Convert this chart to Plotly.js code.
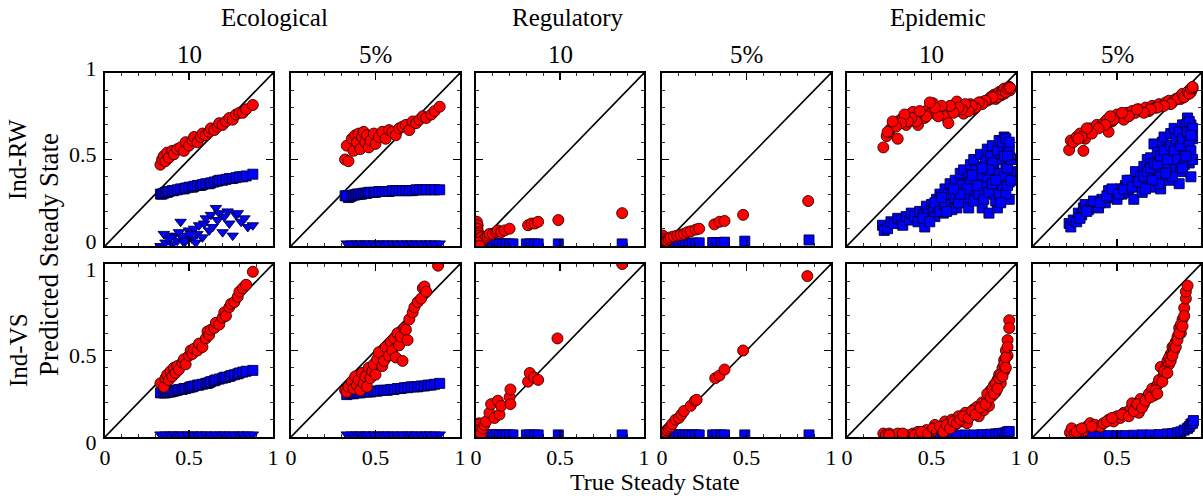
<!DOCTYPE html>
<html>
<head>
<meta charset="utf-8">
<script src="https://cdn.plot.ly/plotly-3.0.1.min.js"></script>
<style>html,body{margin:0;padding:0;background:#fff;}#chart{width:1203px;height:496px;}</style>
</head>
<body>
<div id="chart"></div>
<script>
// ---------- Labels ----------
const groupLabels = ['Ecological', 'Regulatory', 'Epidemic'];
const subLabels = ['10', '5%', '10', '5%', '10', '5%'];
const rowLabels = ['Ind-RW', 'Ind-VS'];
const tickVals = [0, 0.5, 1];
const tickText = ['0', '0.5', '1'];
const identity = [0, 1];

// ---------- Ecological, 10, Ind-RW ----------
const ecoRW10RedX = [0.33,0.34,0.35,0.36,0.37,0.38,0.40,0.41,0.43,0.45,0.47,0.48,0.50,0.52,0.53,0.55,0.57,0.58,0.60,0.62,0.63,0.65,0.67,0.68,0.70,0.72,0.74,0.76,0.78,0.80,0.82,0.84,0.88];
const ecoRW10RedY = [0.47,0.50,0.52,0.49,0.54,0.51,0.55,0.53,0.56,0.57,0.55,0.60,0.58,0.61,0.63,0.60,0.63,0.65,0.64,0.66,0.68,0.67,0.69,0.71,0.70,0.72,0.74,0.73,0.76,0.77,0.77,0.79,0.815];
const ecoRW10BlueX = ecoRW10RedX;
const ecoRW10BlueY = [0.30,0.30,0.305,0.31,0.31,0.315,0.32,0.32,0.325,0.33,0.33,0.335,0.34,0.34,0.345,0.35,0.35,0.355,0.36,0.36,0.365,0.37,0.375,0.38,0.38,0.385,0.39,0.39,0.395,0.40,0.40,0.405,0.415];
const ecoRW10TriX = [0.33,0.35,0.36,0.38,0.40,0.41,0.43,0.44,0.45,0.46,0.47,0.49,0.50,0.52,0.53,0.55,0.56,0.58,0.59,0.60,0.62,0.63,0.64,0.66,0.67,0.68,0.70,0.71,0.73,0.74,0.76,0.78,0.79,0.81,0.83,0.85,0.88,0.39,0.48,0.51,0.54];
const ecoRW10TriY = [0.00,0.07,0.02,0.04,0.01,0.06,0.03,0.08,0.14,0.05,0.02,0.06,0.09,0.04,0.10,0.07,0.12,0.05,0.13,0.16,0.09,0.18,0.11,0.22,0.15,0.19,0.08,0.17,0.20,0.13,0.06,0.18,0.19,0.14,0.16,0.11,0.12,0.05,0.03,0.07,0.02];

// ---------- Ecological, 5%, Ind-RW ----------
const ecoRW5RedX = [0.32,0.34,0.35,0.33,0.36,0.37,0.38,0.39,0.40,0.41,0.42,0.43,0.44,0.45,0.46,0.47,0.49,0.50,0.52,0.54,0.56,0.58,0.60,0.62,0.64,0.66,0.68,0.70,0.72,0.74,0.76,0.78,0.80,0.83,0.85,0.88];
const ecoRW5RedY = [0.50,0.49,0.59,0.58,0.62,0.55,0.64,0.60,0.65,0.56,0.63,0.66,0.60,0.64,0.57,0.61,0.65,0.59,0.63,0.66,0.62,0.67,0.66,0.64,0.68,0.69,0.70,0.67,0.72,0.71,0.73,0.75,0.74,0.76,0.78,0.805];
const ecoRW5BlueX = ecoRW5RedX;
const ecoRW5BlueY = [0.29,0.28,0.285,0.29,0.29,0.295,0.295,0.30,0.30,0.30,0.30,0.305,0.305,0.305,0.31,0.31,0.31,0.31,0.315,0.315,0.315,0.315,0.32,0.32,0.32,0.32,0.32,0.32,0.32,0.325,0.325,0.325,0.325,0.325,0.325,0.325];
const ecoFlatTriX = [0.33,0.36,0.39,0.41,0.44,0.46,0.49,0.52,0.55,0.57,0.60,0.63,0.66,0.69,0.71,0.74,0.77,0.80,0.82,0.85,0.88];
const ecoFlatTriY = [0.015,0.015,0.015,0.015,0.015,0.015,0.015,0.015,0.015,0.015,0.015,0.015,0.015,0.015,0.015,0.015,0.015,0.015,0.015,0.015,0.015];

// ---------- Regulatory, 10, Ind-RW ----------
const regRW10RedX = [0.005,0.01,0.008,0.012,0.02,0.015,0.03,0.04,0.05,0.06,0.07,0.08,0.10,0.12,0.13,0.15,0.17,0.20,0.31,0.33,0.35,0.37,0.49,0.87,0.01,0.02];
const regRW10RedY = [0.14,0.12,0.10,0.08,0.06,0.04,0.05,0.03,0.04,0.05,0.06,0.07,0.07,0.08,0.09,0.08,0.09,0.10,0.12,0.13,0.13,0.14,0.15,0.19,0.02,0.00];
const regBlueX = [0.02,0.04,0.06,0.08,0.10,0.12,0.14,0.16,0.18,0.20,0.22,0.30,0.32,0.35,0.37,0.49,0.87];
const regRW10BlueY = [0.012,0.012,0.012,0.012,0.012,0.012,0.012,0.012,0.012,0.012,0.012,0.012,0.012,0.012,0.012,0.012,0.012];

// ---------- Regulatory, 5%, Ind-RW ----------
const regRW5RedX = [0.005,0.01,0.015,0.02,0.03,0.04,0.05,0.07,0.09,0.11,0.13,0.15,0.17,0.20,0.22,0.31,0.34,0.37,0.48,0.865];
const regRW5RedY = [0.06,0.04,0.02,0.03,0.03,0.04,0.05,0.055,0.06,0.065,0.07,0.08,0.085,0.095,0.10,0.125,0.14,0.145,0.18,0.26];
const regRW5BlueY = [0.01,0.01,0.012,0.012,0.012,0.014,0.014,0.016,0.016,0.016,0.018,0.02,0.02,0.02,0.022,0.028,0.035];

// ---------- Epidemic, 10, Ind-RW ----------
const epiRW10RedX = [0.215,0.235,0.25,0.26,0.28,0.30,0.31,0.33,0.35,0.37,0.39,0.40,0.42,0.44,0.46,0.48,0.50,0.51,0.53,0.55,0.57,0.58,0.60,0.62,0.64,0.65,0.67,0.69,0.71,0.73,0.75,0.77,0.79,0.81,0.83,0.85,0.87,0.88,0.90,0.91,0.92,0.93,0.94,0.95,0.96,0.965,
  0.88,0.89,0.90,0.91,0.92,0.93,0.94,0.95,0.96,0.965,0.85,0.86,0.82,0.80,0.78,0.76,0.74,0.72,0.70,0.68,0.66,0.63,0.61,0.56,0.54,0.52,0.49,0.47,0.43,0.41,0.38,0.36,0.34,0.32,0.29,0.27,0.24];
const epiRW10RedY = [0.57,0.635,0.66,0.68,0.70,0.62,0.725,0.74,0.70,0.76,0.775,0.73,0.70,0.76,0.74,0.79,0.77,0.825,0.76,0.785,0.80,0.75,0.71,0.79,0.81,0.835,0.78,0.765,0.80,0.82,0.79,0.81,0.83,0.835,0.84,0.86,0.875,0.85,0.88,0.87,0.89,0.88,0.90,0.895,0.91,0.90,
  0.87,0.86,0.89,0.88,0.90,0.91,0.89,0.91,0.92,0.915,0.85,0.86,0.84,0.82,0.83,0.80,0.81,0.78,0.82,0.79,0.80,0.77,0.81,0.81,0.75,0.80,0.83,0.75,0.78,0.72,0.74,0.72,0.76,0.71,0.69,0.72,0.66];
const epiRW10BlueX = [0.21,0.22,0.24,0.26,0.28,0.30,0.32,0.33,0.35,0.37,0.38,0.40,0.42,0.43,0.45,0.46,0.47,0.48,0.50,0.51,0.52,0.53,0.54,0.55,0.56,0.57,0.58,0.59,0.60,0.61,0.62,0.63,0.64,0.65,0.66,0.67,0.68,0.69,0.70,0.71,0.72,0.73,0.74,0.75,0.76,0.77,0.78,0.79,0.80,0.81,0.82,0.83,0.84,0.85,0.86,0.87,0.88,0.89,0.90,0.91,0.92,0.93,0.93,0.94,0.95,0.96,0.965,0.97,0.96,
  0.45,0.49,0.52,0.55,0.58,0.60,0.62,0.64,0.66,0.68,0.70,0.72,0.73,0.75,0.76,0.78,0.79,0.80,0.81,0.82,0.83,0.84,0.85,0.86,0.87,0.88,0.89,0.90,0.90,0.91,0.92,0.92,0.93,0.93,0.94,0.94,0.95,0.95,0.96,0.96,0.97,0.97,0.95,0.91,0.88,0.86,0.84,0.80,0.77,0.74,0.71,0.67,0.63,0.59,0.56];
const epiRW10BlueY = [0.12,0.09,0.10,0.14,0.13,0.16,0.15,0.12,0.17,0.15,0.19,0.17,0.14,0.20,0.18,0.11,0.23,0.19,0.24,0.21,0.17,0.27,0.22,0.30,0.25,0.19,0.33,0.28,0.23,0.36,0.30,0.26,0.38,0.22,0.33,0.42,0.29,0.44,0.36,0.25,0.40,0.47,0.32,0.50,0.28,0.43,0.37,0.53,0.22,0.46,0.34,0.56,0.19,0.41,0.58,0.30,0.50,0.22,0.61,0.38,0.55,0.63,0.32,0.46,0.58,0.37,0.51,0.43,0.27,
  0.16,0.14,0.25,0.20,0.24,0.30,0.21,0.28,0.25,0.35,0.30,0.22,0.37,0.26,0.44,0.30,0.41,0.35,0.27,0.49,0.40,0.31,0.52,0.36,0.45,0.26,0.55,0.42,0.30,0.50,0.35,0.60,0.40,0.52,0.30,0.62,0.45,0.35,0.55,0.60,0.50,0.38,0.52,0.25,0.38,0.48,0.44,0.45,0.35,0.41,0.33,0.30,0.33,0.20,0.28];

// ---------- Epidemic, 5%, Ind-RW ----------
const epiRW5RedX = [0.215,0.225,0.24,0.26,0.28,0.30,0.31,0.33,0.34,0.36,0.38,0.40,0.42,0.44,0.45,0.47,0.49,0.50,0.52,0.54,0.56,0.58,0.59,0.61,0.63,0.65,0.67,0.69,0.71,0.73,0.75,0.77,0.79,0.81,0.83,0.85,0.87,0.88,0.90,0.91,0.92,0.93,0.94,0.95,
  0.86,0.89,0.90,0.92,0.93,0.94,0.95,0.82,0.78,0.74,0.70,0.66,0.62,0.57,0.53,0.48,0.46,0.43,0.39,0.35,0.32,0.29,0.27];
const epiRW5RedY = [0.555,0.61,0.60,0.63,0.65,0.55,0.62,0.66,0.68,0.67,0.70,0.69,0.71,0.73,0.66,0.72,0.74,0.76,0.75,0.73,0.77,0.76,0.78,0.77,0.79,0.78,0.80,0.78,0.81,0.80,0.82,0.81,0.83,0.84,0.83,0.85,0.86,0.85,0.87,0.88,0.88,0.90,0.89,0.91,
  0.85,0.88,0.86,0.89,0.88,0.91,0.92,0.82,0.81,0.80,0.79,0.77,0.79,0.75,0.77,0.73,0.75,0.70,0.68,0.65,0.68,0.63,0.62];
const epiRW5BlueX = [0.215,0.225,0.24,0.26,0.27,0.29,0.30,0.31,0.33,0.35,0.37,0.39,0.41,0.43,0.45,0.46,0.48,0.50,0.52,0.53,0.55,0.57,0.58,0.60,0.61,0.62,0.64,0.65,0.66,0.67,0.68,0.69,0.70,0.71,0.72,0.73,0.74,0.75,0.76,0.77,0.78,0.79,0.80,0.81,0.82,0.83,0.84,0.85,0.86,0.87,0.88,0.89,0.90,0.91,0.92,0.92,0.93,0.94,0.95,0.94,
  0.28,0.32,0.36,0.40,0.44,0.47,0.51,0.54,0.56,0.59,0.63,0.66,0.68,0.70,0.72,0.74,0.76,0.78,0.80,0.82,0.84,0.85,0.86,0.87,0.88,0.89,0.90,0.91,0.92,0.93,0.93,0.94,0.95,0.95,0.94,0.91,0.89,0.83,0.79,0.75,0.71,0.67];
const epiRW5BlueY = [0.13,0.11,0.15,0.14,0.19,0.18,0.22,0.24,0.21,0.23,0.25,0.22,0.27,0.25,0.32,0.28,0.30,0.27,0.33,0.30,0.35,0.31,0.38,0.27,0.43,0.35,0.40,0.31,0.46,0.37,0.50,0.42,0.51,0.34,0.59,0.45,0.54,0.40,0.33,0.60,0.63,0.48,0.56,0.38,0.65,0.52,0.68,0.45,0.60,0.36,0.43,0.70,0.55,0.64,0.74,0.58,0.48,0.70,0.62,0.40,
  0.16,0.20,0.26,0.25,0.29,0.33,0.30,0.33,0.38,0.34,0.37,0.40,0.43,0.45,0.48,0.47,0.52,0.55,0.50,0.58,0.55,0.62,0.50,0.66,0.58,0.62,0.47,0.70,0.66,0.60,0.72,0.55,0.68,0.50,0.64,0.52,0.45,0.40,0.42,0.36,0.38,0.33];

// ---------- Ecological, 10, Ind-VS ----------
const ecoVS10RedX = [0.33,0.35,0.36,0.37,0.38,0.39,0.40,0.41,0.42,0.43,0.44,0.46,0.47,0.48,0.50,0.51,0.52,0.53,0.55,0.56,0.58,0.60,0.61,0.62,0.63,0.65,0.66,0.68,0.70,0.71,0.72,0.74,0.75,0.77,0.79,0.80,0.82,0.84,0.88];
const ecoVS10RedY = [0.31,0.29,0.34,0.36,0.33,0.38,0.35,0.40,0.37,0.41,0.39,0.43,0.45,0.42,0.47,0.50,0.48,0.51,0.50,0.54,0.52,0.57,0.61,0.59,0.62,0.63,0.66,0.65,0.69,0.72,0.70,0.75,0.77,0.78,0.81,0.84,0.86,0.88,0.955];
const ecoVS10BlueX = ecoVS10RedX;
const ecoVS10BlueY = [0.255,0.255,0.255,0.26,0.26,0.26,0.265,0.265,0.27,0.27,0.275,0.275,0.28,0.28,0.285,0.29,0.29,0.295,0.30,0.30,0.305,0.31,0.31,0.315,0.32,0.325,0.33,0.335,0.34,0.345,0.345,0.35,0.355,0.36,0.365,0.37,0.375,0.38,0.385];

// ---------- Ecological, 5%, Ind-VS ----------
const ecoVS5RedX = [0.32,0.33,0.34,0.36,0.37,0.38,0.39,0.40,0.41,0.42,0.43,0.44,0.45,0.46,0.47,0.48,0.49,0.50,0.51,0.52,0.54,0.55,0.56,0.58,0.59,0.60,0.61,0.62,0.63,0.64,0.65,0.66,0.67,0.68,0.69,0.70,0.72,0.73,0.75,0.77,0.78,0.79,0.80,0.87];
const ecoVS5RedY = [0.27,0.26,0.29,0.32,0.28,0.35,0.30,0.33,0.27,0.37,0.31,0.35,0.29,0.40,0.34,0.38,0.42,0.36,0.45,0.49,0.41,0.44,0.52,0.47,0.55,0.50,0.57,0.46,0.60,0.53,0.58,0.44,0.63,0.62,0.56,0.68,0.72,0.75,0.78,0.80,0.86,0.87,0.84,0.99];
const ecoVS5BlueX = [0.33,0.35,0.37,0.39,0.41,0.43,0.45,0.47,0.49,0.51,0.53,0.55,0.57,0.59,0.61,0.63,0.65,0.67,0.69,0.71,0.73,0.75,0.77,0.79,0.81,0.83,0.85,0.88];
const ecoVS5BlueY = [0.245,0.25,0.25,0.255,0.255,0.26,0.26,0.26,0.265,0.265,0.27,0.27,0.27,0.275,0.275,0.28,0.28,0.285,0.285,0.29,0.29,0.29,0.295,0.295,0.30,0.30,0.305,0.31];

// ---------- Regulatory, 10, Ind-VS ----------
const regVS10RedX = [0.005,0.01,0.012,0.02,0.02,0.03,0.04,0.05,0.06,0.08,0.09,0.11,0.13,0.14,0.15,0.20,0.205,0.205,0.31,0.32,0.345,0.37,0.485,0.87];
const regVS10RedY = [0.06,0.03,0.01,0.08,0.04,0.02,0.05,0.07,0.09,0.14,0.19,0.11,0.21,0.13,0.18,0.23,0.19,0.275,0.32,0.37,0.345,0.33,0.57,1.0];
const regVS10BlueY = [0.012,0.012,0.012,0.012,0.012,0.012,0.012,0.012,0.012,0.012,0.012,0.012,0.012,0.012,0.012,0.012,0.012];

// ---------- Regulatory, 5%, Ind-VS ----------
const regVS5RedX = [0.005,0.01,0.015,0.02,0.03,0.04,0.05,0.06,0.08,0.10,0.115,0.13,0.17,0.195,0.205,0.315,0.34,0.37,0.48,0.86];
const regVS5RedY = [0.005,0.01,0.02,0.03,0.04,0.05,0.06,0.075,0.10,0.11,0.13,0.15,0.18,0.21,0.215,0.34,0.355,0.39,0.50,0.93];
const regVS5BlueY = [0.012,0.012,0.012,0.012,0.012,0.012,0.012,0.012,0.012,0.012,0.012,0.012,0.012,0.012,0.012,0.012,0.012];

// ---------- Epidemic, 10, Ind-VS ----------
const epiVS10RedX = [0.215,0.23,0.25,0.28,0.30,0.33,0.36,0.39,0.42,0.45,0.47,0.50,0.52,0.54,0.56,0.58,0.60,0.62,0.64,0.66,0.68,0.70,0.71,0.73,0.75,0.77,0.78,0.80,0.81,0.83,0.84,0.85,0.86,0.87,0.88,0.89,0.90,0.91,0.92,0.93,0.93,0.94,0.95,0.95,0.96,0.96,
  0.25,0.33,0.40,0.44,0.48,0.51,0.55,0.57,0.59,0.61,0.63,0.65,0.67,0.69,0.72,0.74,0.76,0.79,0.82,0.83,0.85,0.86,0.87,0.88,0.89,0.90,0.91,0.92,0.93,0.94,0.94,0.95];
const epiVS10RedY = [0.02,0.01,0.02,0.01,0.02,0.015,0.01,0.02,0.03,0.02,0.04,0.03,0.07,0.05,0.04,0.09,0.06,0.10,0.07,0.12,0.09,0.14,0.08,0.13,0.16,0.175,0.12,0.20,0.155,0.22,0.18,0.27,0.24,0.30,0.26,0.33,0.36,0.31,0.40,0.445,0.38,0.50,0.56,0.47,0.675,0.63,
  0.01,0.02,0.01,0.03,0.02,0.05,0.06,0.03,0.07,0.05,0.09,0.08,0.10,0.12,0.11,0.15,0.13,0.17,0.19,0.25,0.23,0.28,0.25,0.31,0.28,0.34,0.36,0.35,0.42,0.46,0.40,0.52];
const epiVS10BlueX = [0.30,0.35,0.40,0.45,0.50,0.55,0.60,0.65,0.70,0.75,0.80,0.85,0.88,0.90,0.92,0.94,0.95,0.96];
const epiVS10BlueY = [0.005,0.005,0.005,0.008,0.008,0.008,0.01,0.01,0.012,0.012,0.014,0.016,0.018,0.02,0.022,0.025,0.03,0.032];

// ---------- Epidemic, 5%, Ind-VS ----------
const epiVS5RedX = [0.22,0.23,0.25,0.27,0.30,0.32,0.34,0.37,0.40,0.42,0.45,0.48,0.50,0.52,0.54,0.56,0.58,0.59,0.61,0.63,0.64,0.66,0.68,0.69,0.71,0.72,0.74,0.75,0.76,0.78,0.79,0.80,0.81,0.82,0.83,0.84,0.85,0.86,0.87,0.88,0.89,0.90,0.91,0.91,0.92,
  0.26,0.29,0.35,0.44,0.47,0.53,0.57,0.60,0.62,0.65,0.67,0.70,0.73,0.74,0.77,0.78,0.80,0.81,0.82,0.83,0.84,0.85,0.86,0.87,0.88,0.89,0.90];
const epiVS5RedY = [0.025,0.05,0.02,0.04,0.035,0.06,0.08,0.07,0.06,0.08,0.10,0.09,0.12,0.11,0.14,0.13,0.16,0.195,0.17,0.14,0.22,0.19,0.23,0.25,0.28,0.24,0.30,0.33,0.405,0.36,0.40,0.44,0.42,0.48,0.52,0.50,0.55,0.58,0.63,0.60,0.68,0.745,0.80,0.84,0.875,
  0.03,0.05,0.06,0.09,0.11,0.13,0.12,0.15,0.19,0.17,0.21,0.23,0.27,0.25,0.32,0.38,0.37,0.46,0.44,0.47,0.53,0.52,0.56,0.60,0.65,0.64,0.70];
const epiVS5BlueX = [0.25,0.30,0.35,0.40,0.45,0.50,0.55,0.60,0.65,0.70,0.75,0.80,0.83,0.86,0.88,0.90,0.92,0.93,0.94,0.95,0.955];
const epiVS5BlueY = [0.005,0.005,0.005,0.005,0.008,0.008,0.008,0.01,0.012,0.012,0.014,0.018,0.02,0.025,0.03,0.04,0.05,0.06,0.075,0.08,0.095];

// ---------- Panels (row-major: top row then bottom row) ----------
const panels = [
  {red:[ecoRW10RedX, ecoRW10RedY], blue:[ecoRW10BlueX, ecoRW10BlueY], tri:[ecoRW10TriX, ecoRW10TriY]},
  {red:[ecoRW5RedX, ecoRW5RedY], blue:[ecoRW5BlueX, ecoRW5BlueY], tri:[ecoFlatTriX, ecoFlatTriY]},
  {red:[regRW10RedX, regRW10RedY], blue:[regBlueX, regRW10BlueY]},
  {red:[regRW5RedX, regRW5RedY], blue:[regBlueX, regRW5BlueY]},
  {red:[epiRW10RedX, epiRW10RedY], blue:[epiRW10BlueX, epiRW10BlueY]},
  {red:[epiRW5RedX, epiRW5RedY], blue:[epiRW5BlueX, epiRW5BlueY]},
  {red:[ecoVS10RedX, ecoVS10RedY], blue:[ecoVS10BlueX, ecoVS10BlueY], tri:[ecoFlatTriX, ecoFlatTriY]},
  {red:[ecoVS5RedX, ecoVS5RedY], blue:[ecoVS5BlueX, ecoVS5BlueY], tri:[ecoFlatTriX, ecoFlatTriY]},
  {red:[regVS10RedX, regVS10RedY], blue:[regBlueX, regVS10BlueY]},
  {red:[regVS5RedX, regVS5RedY], blue:[regBlueX, regVS5BlueY]},
  {red:[epiVS10RedX, epiVS10RedY], blue:[epiVS10BlueX, epiVS10BlueY]},
  {red:[epiVS5RedX, epiVS5RedY], blue:[epiVS5BlueX, epiVS5BlueY]}
];

// ---------- Layout geometry (pixels) ----------
const W = 1203, H = 496;
const colPx = [[105,273],[291,460],[476,644],[662,831],[847,1016],[1033,1201]];
const rowPx = [[73,246],[264,437]];
const FONT = 'Liberation Serif, Times New Roman, serif';

const traces = [];
const layout = {
  width: W, height: H,
  margin: {l:0, r:0, t:0, b:0},
  paper_bgcolor: '#fff', plot_bgcolor: '#fff',
  showlegend: false,
  font: {family: FONT, size: 20, color: '#000'},
  annotations: []
};

const lineStyle = {color:'#000', width:1.6};
const redM = {symbol:'circle', size:11, color:'#ff0000', line:{color:'#300000', width:0.9}};
const blueM = {symbol:'square', size:10, color:'#0000ff', line:{color:'#000030', width:0.9}};
const triM = {symbol:'triangle-down', size:10, color:'#0000ff', line:{color:'#000030', width:0.9}};

panels.forEach((p, i) => {
  const r = Math.floor(i / 6), c = i % 6;
  const n = i + 1;
  const xa = n === 1 ? 'x' : 'x' + n;
  const ya = n === 1 ? 'y' : 'y' + n;
  const xk = n === 1 ? 'xaxis' : 'xaxis' + n;
  const yk = n === 1 ? 'yaxis' : 'yaxis' + n;
  const common = {
    range: [0, 1], autorange: false, fixedrange: true,
    showgrid: false, zeroline: false,
    showline: true, linecolor: '#000', linewidth: 2, mirror: 'ticks',
    ticks: 'inside', ticklen: 7, tickwidth: 1.2, tickcolor: '#000',
    tickvals: tickVals, ticktext: tickText,
    minor: {tickvals: [0.1,0.2,0.3,0.4,0.6,0.7,0.8,0.9], ticks: 'inside', ticklen: 3, tickwidth: 0.8, tickcolor: '#000'}
  };
  layout[xk] = Object.assign({}, common, {
    domain: [colPx[c][0] / W, colPx[c][1] / W],
    anchor: ya,
    showticklabels: r === 1,
    ticklabelstandoff: 0,
    tickfont: {family: FONT, size: 22, color: '#000'}
  });
  layout[yk] = Object.assign({}, common, {
    domain: [1 - rowPx[r][1] / H, 1 - rowPx[r][0] / H],
    anchor: xa,
    showticklabels: c === 0,
    ticklabelstandoff: 2,
    ticklabelshift: r === 0 ? -5 : 5,
    tickfont: {family: FONT, size: 22, color: '#000'}
  });
  traces.push({x: identity, y: identity, xaxis: xa, yaxis: ya, mode: 'lines', line: lineStyle, hoverinfo: 'skip'});
  if (p.tri) traces.push({x: p.tri[0], y: p.tri[1], xaxis: xa, yaxis: ya, mode: 'markers', marker: triM});
  traces.push({x: p.blue[0], y: p.blue[1], xaxis: xa, yaxis: ya, mode: 'markers', marker: blueM});
  traces.push({x: p.red[0], y: p.red[1], xaxis: xa, yaxis: ya, mode: 'markers', marker: redM});
});

// ---------- Text annotations ----------
const groupX = [274, 568, 938];
groupLabels.forEach((t, k) => layout.annotations.push({
  text: t, xref: 'paper', yref: 'paper', x: groupX[k] / W, y: 1 - 18 / H,
  showarrow: false, xanchor: 'center', yanchor: 'middle', font: {family: FONT, size: 25}
}));
subLabels.forEach((t, k) => layout.annotations.push({
  text: t, xref: 'paper', yref: 'paper', x: ((colPx[k][0] + colPx[k][1]) / 2) / W, y: 1 - 55 / H,
  showarrow: false, xanchor: 'center', yanchor: 'middle', font: {family: FONT, size: 25}
}));
const rowLabelY = [160, 350];
rowLabels.forEach((t, k) => layout.annotations.push({
  text: t, xref: 'paper', yref: 'paper', x: 18 / W, y: 1 - rowLabelY[k] / H,
  showarrow: false, textangle: -90, xanchor: 'center', yanchor: 'middle', font: {family: FONT, size: 25}
}));
layout.annotations.push({
  text: 'Predicted Steady State', xref: 'paper', yref: 'paper', x: 49 / W, y: 1 - 255 / H,
  showarrow: false, textangle: -90, xanchor: 'center', yanchor: 'middle', font: {family: FONT, size: 27}
});
layout.annotations.push({
  text: 'True Steady State', xref: 'paper', yref: 'paper', x: 655 / W, y: 1 - 482 / H,
  showarrow: false, xanchor: 'center', yanchor: 'middle', font: {family: FONT, size: 24}
});

Plotly.newPlot('chart', traces, layout, {staticPlot: true, displayModeBar: false});
</script>
</body>
</html>
